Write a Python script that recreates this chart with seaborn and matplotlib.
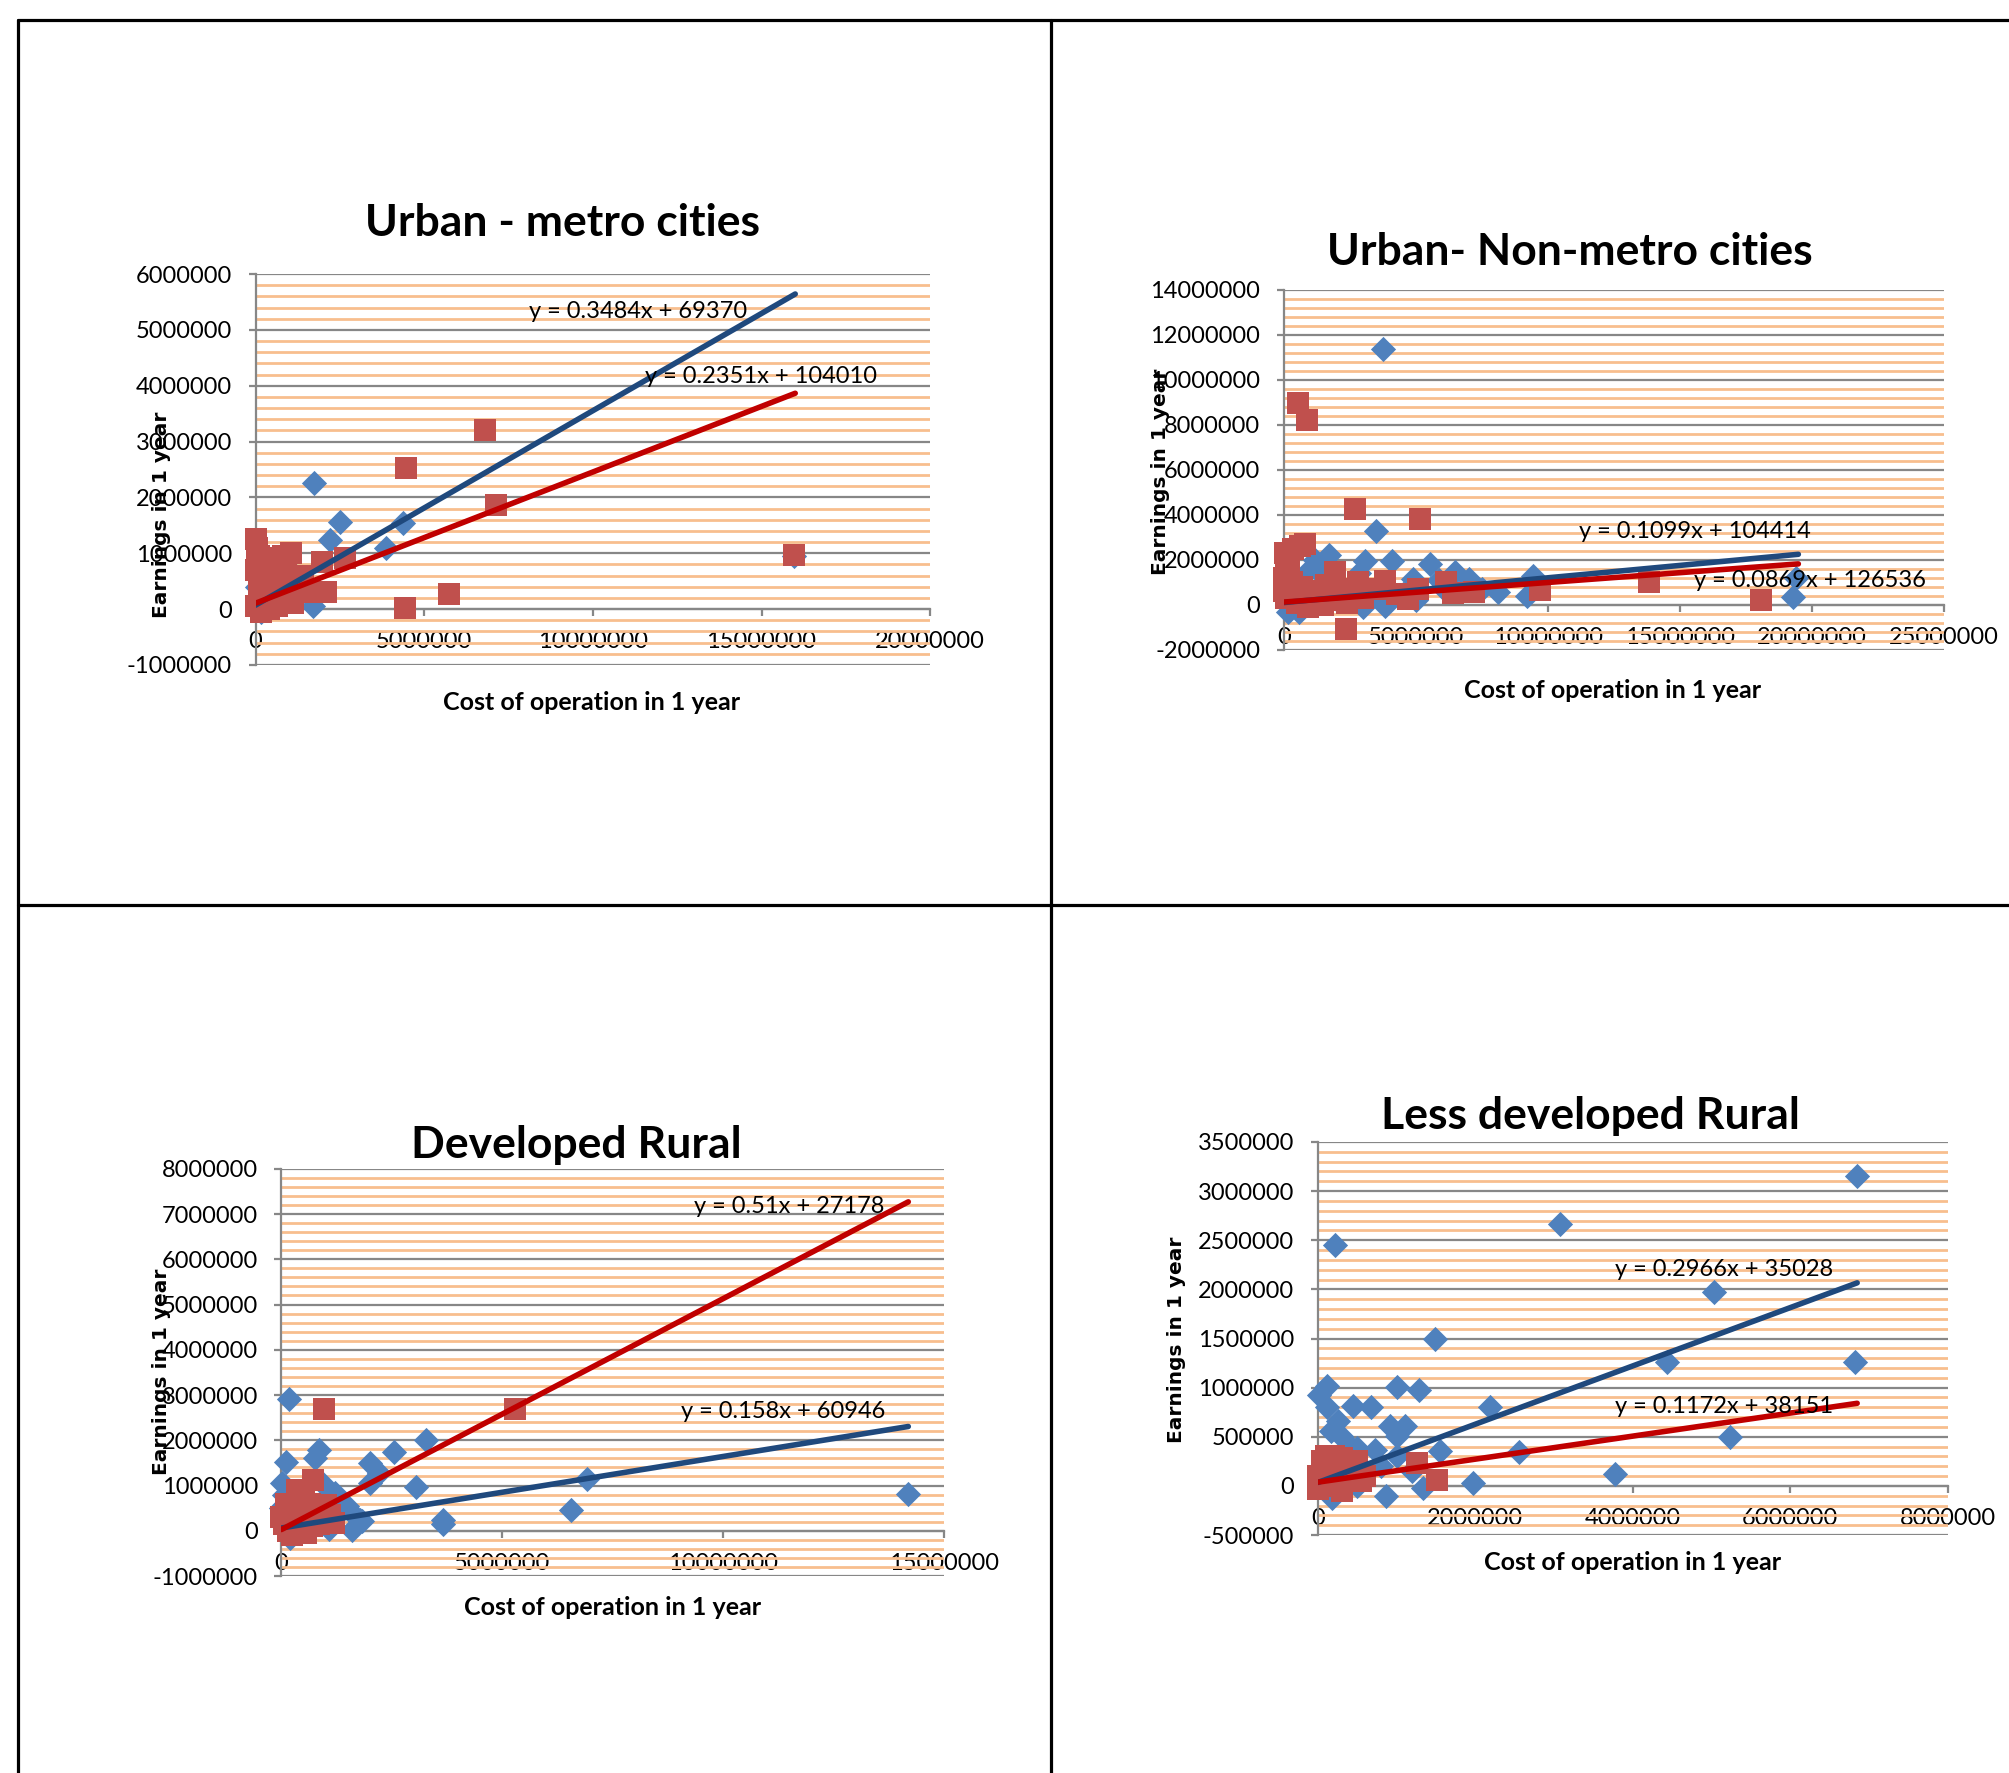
import numpy as np
import seaborn as sns
import matplotlib
matplotlib.use("Agg")
import matplotlib.pyplot as plt
from matplotlib.lines import Line2D
from matplotlib.ticker import MultipleLocator, FuncFormatter

sns.set_theme(style="white")
plt.rcParams["font.family"] = ["Lato", "DejaVu Sans"]
plt.rcParams["text.color"] = "black"
plt.rcParams["xtick.color"] = "black"
plt.rcParams["ytick.color"] = "black"

# ---- data (values in millions) ----
titles = ["Urban - metro cities", "Urban- Non-metro cities", "Developed Rural", "Less developed Rural"]

metro_blue = [(1.72, 2.25), (2.49, 1.56), (2.21, 1.23), (4.37, 1.54), (3.88, 1.10), (1.70, 0.06),
              (0.15, -0.05), (0.05, 0.40), (0.30, 0.70), (0.60, 0.50), (0.90, 0.30), (1.20, 0.60),
              (0.40, 0.20), (0.80, 0.90), (1.40, 0.40), (0.20, 0.10), (1.00, 0.15), (15.95, 0.95)]
metro_red = [(0.00, 1.26), (0.05, 1.10), (0.10, 0.95), (0.00, 0.70), (0.15, 0.85), (0.30, 0.90),
             (0.45, 0.75), (0.60, 0.92), (0.80, 0.95), (1.04, 1.00), (0.20, 0.50), (0.35, 0.60),
             (0.50, 0.55), (0.70, 0.40), (0.90, 0.65), (1.20, 0.55), (1.40, 0.60), (0.10, 0.30),
             (0.25, 0.25), (0.55, 0.20), (0.75, 0.10), (1.00, 0.30), (1.30, 0.35), (0.00, 0.05),
             (0.40, 0.00), (0.65, 0.05), (0.85, 0.15), (1.10, 0.10), (1.96, 0.85), (2.65, 0.91),
             (2.09, 0.30), (4.46, 2.52), (6.79, 3.21), (7.14, 1.86), (15.97, 0.97), (4.43, 0.01),
             (5.75, 0.27), (1.50, 0.30), (0.15, -0.05), (0.30, 0.45)]

nonmetro_blue = [(3.76, 11.38), (3.49, 3.27), (3.08, 1.95), (4.12, 1.95), (5.53, 1.80), (1.73, 2.21),
                 (1.20, 1.99), (6.50, 1.44), (7.03, 1.15), (8.10, 0.56), (9.20, 0.41), (9.46, 1.30),
                 (4.89, 1.15), (19.30, 0.37), (19.40, 1.20), (3.80, 0.15), (2.87, 1.40), (5.90, 1.10),
                 (0.17, -0.30), (0.58, -0.30), (0.50, 1.00), (1.00, 0.60), (2.20, 0.80), (2.60, 0.30),
                 (3.30, 0.60), (4.50, 0.50), (1.50, 1.30), (0.90, 1.50), (2.00, 0.20), (5.00, 0.20),
                 (6.00, 0.80), (7.50, 0.70), (3.00, -0.10), (3.83, -0.03)]
nonmetro_red = [(0.54, 8.97), (0.88, 8.23), (2.69, 4.25), (5.15, 3.80), (2.35, -1.09), (0.80, 2.70),
                (0.35, 2.48), (0.60, 2.60), (0.10, 2.00), (0.05, 2.30), (0.20, 1.60), (1.93, 1.45),
                (3.83, 1.08), (5.09, 0.71), (6.16, 1.03), (4.71, 0.27), (6.40, 0.52), (7.20, 0.59),
                (9.70, 0.66), (13.85, 1.03), (18.10, 0.22), (0.00, 1.20), (0.30, 1.00), (0.70, 0.80),
                (1.20, 0.60), (1.60, 0.90), (2.50, 0.50), (3.00, 0.30), (0.10, 0.30), (0.50, 0.10),
                (1.00, 0.20), (1.50, 0.00), (2.00, 0.70), (2.80, 1.00), (3.50, 0.70), (0.00, 0.60),
                (0.40, 0.50), (0.90, -0.10), (1.80, 0.20), (2.40, 0.10), (4.30, 0.50)]

devrural_blue = [(0.17, 2.92), (0.84, 1.79), (0.75, 1.60), (0.11, 1.51), (2.55, 1.75), (3.28, 2.00),
                 (2.01, 1.49), (2.20, 1.27), (2.01, 1.05), (3.05, 0.96), (3.67, 0.23), (3.65, 0.15),
                 (0.02, 1.05), (1.22, 0.83), (1.49, 0.54), (1.60, 0.39), (1.82, 0.21), (1.60, 0.02),
                 (0.92, 1.05), (6.57, 0.46), (6.93, 1.14), (14.20, 0.81), (0.20, -0.15), (1.08, 0.04),
                 (0.00, 0.50), (0.40, 0.70), (0.60, 0.30), (1.30, 0.50), (1.78, 0.23), (0.05, 0.80)]
devrural_red = [(0.97, 2.68), (5.29, 2.70), (0.72, 1.12), (0.35, 0.90), (1.00, 0.57), (1.19, 0.17),
                (0.00, 0.30), (0.10, 0.60), (0.20, 0.40), (0.30, 0.20), (0.45, 0.55), (0.50, 0.75),
                (0.60, 0.35), (0.70, 0.10), (0.80, 0.45), (0.90, 0.25), (0.15, 0.00), (0.25, -0.10),
                (0.40, 0.05), (0.55, -0.05), (0.05, 0.15), (0.65, 0.60), (0.85, 0.15), (1.10, 0.35),
                (0.30, 0.45)]

lessdev_blue = [(6.85, 3.15), (3.08, 2.67), (0.22, 2.45), (5.03, 1.97), (1.49, 1.50), (4.44, 1.26),
                (6.82, 1.26), (5.23, 0.50), (3.77, 0.12), (2.55, 0.35), (2.19, 0.80), (1.97, 0.03),
                (1.55, 0.36), (1.00, 1.01), (1.29, 0.98), (0.12, 1.02), (0.02, 0.93), (0.12, 0.80),
                (0.45, 0.81), (0.67, 0.80), (0.26, 0.66), (0.16, 0.56), (0.29, 0.51), (0.92, 0.61),
                (1.11, 0.61), (1.00, 0.51), (0.39, 0.42), (0.50, 0.39), (0.73, 0.37), (0.86, -0.10),
                (0.18, -0.12), (1.34, -0.02), (0.50, 0.00), (0.80, 0.20), (1.20, 0.15), (1.00, 0.30),
                (0.60, 0.15)]
lessdev_red = [(0.00, 0.10), (0.05, 0.25), (0.10, 0.30), (0.15, 0.00), (0.20, 0.20), (0.25, 0.10),
               (0.30, 0.28), (0.35, 0.05), (0.40, 0.20), (0.45, 0.12), (0.50, 0.25), (0.55, 0.05),
               (0.30, -0.05), (0.10, 0.15), (0.60, 0.10), (1.26, 0.23), (1.51, 0.06), (0.20, 0.30),
               (0.00, -0.03)]

blue_sets = [metro_blue, nonmetro_blue, devrural_blue, lessdev_blue]
red_sets = [metro_red, nonmetro_red, devrural_red, lessdev_red]

# trendlines: slope, intercept, x end (millions)
blue_slope = [0.3484, 0.1099, 0.158, 0.2966]
blue_icpt = [69370, 104414, 60946, 35028]
red_slope = [0.2351, 0.0869, 0.51, 0.1172]
red_icpt = [104010, 126536, 27178, 38151]
trend_xend = [16.0, 19.5, 14.2, 6.85]
blue_eq = ["y = 0.3484x + 69370", "y = 0.1099x + 104414", "y = 0.158x + 60946", "y = 0.2966x + 35028"]
red_eq = ["y = 0.2351x + 104010", "y = 0.0869x + 126536", "y = 0.51x + 27178", "y = 0.1172x + 38151"]

xmax = [20e6, 25e6, 15e6, 8e6]
xstep = [5e6, 5e6, 5e6, 2e6]
ymin = [-1e6, -2e6, -1e6, -0.5e6]
ymax = [6e6, 14e6, 8e6, 3.5e6]
ystep = [1e6, 2e6, 1e6, 0.5e6]

# ---- layout ----
W, H = 2009, 1773
fig = plt.figure(figsize=(W / 100, H / 100), dpi=100)

rects = [[0.1272, 0.6250, 0.3358, 0.2204],
         [0.6390, 0.6334, 0.3284, 0.2033],
         [0.1401, 0.1111, 0.3296, 0.2297],
         [0.6560, 0.1342, 0.3135, 0.2217]]
title_pos = [(0.280, 0.8743), (0.7812, 0.8577), (0.287, 0.354), (0.7915, 0.3707)]
xlab_pos = [(0.2946, 0.6040), (0.8029, 0.6105), (0.3048, 0.0932), (0.8125, 0.1185)]
ylab_pos = [(0.0804, 0.7095), (0.5778, 0.7341), (0.0804, 0.2262), (0.5855, 0.2442)]
blue_eq_pos = [(0.3176, 0.8244), (0.8438, 0.7001), (0.3897, 0.2038), (0.8584, 0.2840)]
red_eq_pos = [(0.3788, 0.7876), (0.9011, 0.6727), (0.3929, 0.3194), (0.8584, 0.2066)]

GRAY = "#878787"
ORANGE = "#F8BE8E"
fmt = FuncFormatter(lambda v, p: f"{v:.0f}")

for i in range(4):
    ax = fig.add_axes(rects[i])
    bx = np.array([p[0] for p in blue_sets[i]]) * 1e6
    by = np.array([p[1] for p in blue_sets[i]]) * 1e6
    rx = np.array([p[0] for p in red_sets[i]]) * 1e6
    ry = np.array([p[1] for p in red_sets[i]]) * 1e6

    sns.scatterplot(x=bx, y=by, ax=ax, marker="D", s=165, color="#4F81BD",
                    linewidth=0, zorder=3, clip_on=False)
    sns.scatterplot(x=rx, y=ry, ax=ax, marker="s", s=260, color="#C0504D",
                    linewidth=0, zorder=3, clip_on=False)

    tx = np.array([0, trend_xend[i]]) * 1e6
    sns.lineplot(x=tx, y=blue_slope[i] * tx + blue_icpt[i], ax=ax, color="#1F497D",
                 lw=4, zorder=4)
    sns.lineplot(x=tx, y=red_slope[i] * tx + red_icpt[i], ax=ax, color="#C00000",
                 lw=4, zorder=5)

    ax.set_xlim(0, xmax[i])
    ax.set_ylim(ymin[i], ymax[i])
    ax.xaxis.set_major_locator(MultipleLocator(xstep[i]))
    ax.yaxis.set_major_locator(MultipleLocator(ystep[i]))
    ax.yaxis.set_minor_locator(MultipleLocator(ystep[i] / 5))
    ax.xaxis.set_major_formatter(fmt)
    ax.yaxis.set_major_formatter(fmt)
    ax.set_axisbelow(True)
    ax.grid(False)
    ax.grid(which="minor", axis="y", color=ORANGE, lw=2.0)
    ax.grid(which="major", axis="y", color=GRAY, lw=1.6)
    for s in ["top", "right"]:
        ax.spines[s].set_visible(False)
    ax.spines["bottom"].set_position(("data", 0))
    ax.spines["bottom"].set_color(GRAY)
    ax.spines["left"].set_color(GRAY)
    ax.spines["bottom"].set_linewidth(1.6)
    ax.spines["left"].set_linewidth(1.6)
    ax.tick_params(axis="y", which="major", length=5, width=1.6, color=GRAY, pad=12,
                   labelsize=17, left=True, labelcolor="black")
    ax.tick_params(axis="y", which="minor", length=0)
    ax.tick_params(axis="x", which="major", length=5, width=1.6, color=GRAY, pad=11,
                   labelsize=17, bottom=True, direction="out", labelcolor="black")
    ax.set_xlabel("")
    ax.set_ylabel("")

    fig.text(*title_pos[i], titles[i], ha="center", va="center", fontsize=32,
             fontweight="bold", color="black")
    fig.text(*xlab_pos[i], "Cost of operation in 1 year", ha="center", va="center",
             fontsize=18, fontweight="bold", color="black")
    fig.text(*ylab_pos[i], "Earnings in 1 year", ha="center", va="center", rotation=90,
             fontsize=14.5, fontweight="bold", family=["DejaVu Sans"], color="black")
    fig.text(*blue_eq_pos[i], blue_eq[i], ha="center", va="center", fontsize=17, color="black")
    fig.text(*red_eq_pos[i], red_eq[i], ha="center", va="center", fontsize=17, color="black")

# table borders
top_y = 1 - 20 / H
mid_y = 1 - 905 / H
left_x = 17.5 / W
mid_x = 1050.5 / W
for xs, ys in [([left_x, 1], [top_y, top_y]), ([left_x, 1], [mid_y, mid_y]),
               ([left_x, left_x], [0, top_y]), ([mid_x, mid_x], [0, top_y])]:
    fig.add_artist(Line2D(xs, ys, transform=fig.transFigure, color="black", lw=2.3))

fig.savefig("out.png", dpi=100)
